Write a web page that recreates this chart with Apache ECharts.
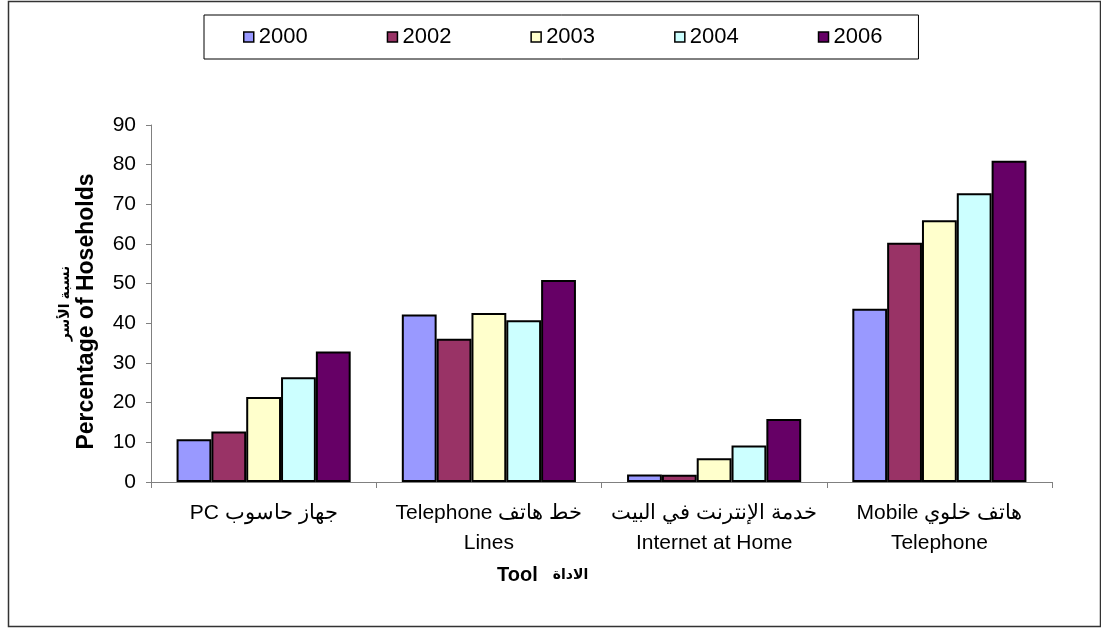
<!DOCTYPE html>
<html>
<head>
<meta charset="utf-8">
<script src="https://cdn.jsdelivr.net/npm/echarts@6/dist/echarts.min.js"></script>
<style>
html,body{margin:0;padding:0;background:#fff;}
#chart{width:1101px;height:630px;}
</style>
</head>
<body>
<div id="chart"></div>
<script>
const categories = [
  "PC جهاز حاسوب",
  "Telephone خط هاتف\nLines",
  "خدمة الإنترنت في البيت\nInternet at Home",
  "Mobile هاتف خلوي\nTelephone"
];
const years = ["2000", "2002", "2003", "2004", "2006"];
const v2000 = [10.8, 42.2, 1.9, 43.7];
const v2002 = [12.7, 36.1, 1.8, 60.3];
const v2003 = [21.4, 42.6, 6.0, 66.0];
const v2004 = [26.4, 40.8, 9.2, 72.8];
const v2006 = [32.9, 50.9, 15.9, 81.0];
const yTicks = [0, 10, 20, 30, 40, 50, 60, 70, 80, 90];

const seriesValues = [v2000, v2002, v2003, v2004, v2006];
const colors = ["#9999FF", "#993366", "#FFFFCC", "#CCFFFF", "#660066"];
const FONT = "'Liberation Sans', Arial, sans-serif";
const AR_FONT = "'Liberation Sans', Arial, 'DejaVu Sans', sans-serif";

const chart = echarts.init(document.getElementById('chart'), null, {renderer: 'canvas'});
chart.setOption({
  backgroundColor: '#ffffff',
  animation: false,
  textStyle: {fontFamily: FONT, color: '#000'},
  graphic: [{
    type: 'rect',
    shape: {x: 8.5, y: 1.5, width: 1092, height: 625},
    style: {fill: 'none', stroke: '#333', lineWidth: 1.5},
    silent: true
  }],
  title: {
    text: '{en|Tool}   {ar|الاداة}',
    left: 492, top: 560,
    textStyle: {
      rich: {
        en: {fontFamily: FONT, fontWeight: 'bold', fontSize: 20, color: '#000'},
        ar: {fontFamily: AR_FONT, fontWeight: 'bold', fontSize: 14, color: '#000'}
      }
    }
  },
  legend: {
    data: years,
    left: 204, top: 15,
    padding: [11, 36, 11, 39],
    itemGap: 79,
    itemWidth: 10, itemHeight: 10,
    icon: 'rect',
    borderColor: '#000', borderWidth: 1,
    textStyle: {fontFamily: FONT, fontSize: 22, color: '#000'},
    itemStyle: {borderColor: '#000', borderWidth: 1.5}
  },
  grid: {left: 151, right: 49, top: 125, bottom: 148, containLabel: false},
  xAxis: {
    type: 'category',
    data: categories,
    axisLine: {lineStyle: {color: '#808080', width: 1}},
    axisTick: {show: true, length: 6, lineStyle: {color: '#808080'}},
    axisLabel: {fontFamily: FONT, fontSize: 21, color: '#000', margin: 16, lineHeight: 30, interval: 0}
  },
  yAxis: {
    type: 'value',
    min: 0, max: 90, interval: 10,
    splitLine: {show: false},
    axisLine: {show: true, lineStyle: {color: '#808080', width: 1}},
    axisTick: {show: true, length: 5, lineStyle: {color: '#808080'}},
    axisLabel: {fontFamily: FONT, fontSize: 21, color: '#000', margin: 15,
      formatter: function (v) { return yTicks.indexOf(v) >= 0 ? String(v) : ''; }},
    name: '{ar|نسبة الأسر}\n{en|Percentage of Hoseholds}',
    nameLocation: 'middle',
    nameRotate: 90,
    nameGap: 52,
    nameTextStyle: {
      padding: [0, 16, 0, 0],
      rich: {
        ar: {fontFamily: AR_FONT, fontWeight: 'bold', fontSize: 14, color: '#000', lineHeight: 19, align: 'center', padding: [0, 0, 0, 16]},
        en: {fontFamily: FONT, fontWeight: 'bold', fontSize: 23, color: '#000', lineHeight: 24, align: 'center'}
      }
    }
  },
  series: years.map(function (y, i) {
    return {
      name: y,
      type: 'bar',
      data: seriesValues[i],
      barGap: '0%',
      barCategoryGap: '22.7%',
      itemStyle: {color: colors[i], borderColor: '#000', borderWidth: 2}
    };
  })
});
</script>
</body>
</html>
